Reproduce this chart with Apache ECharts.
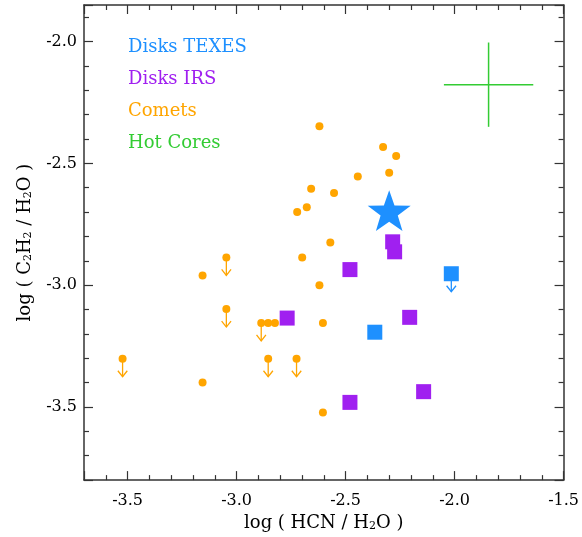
<!DOCTYPE html>
<html>
<head>
<meta charset="utf-8">
<script src="https://cdn.jsdelivr.net/npm/echarts@6/dist/echarts.min.js"></script>
<style>
html, body { margin: 0; padding: 0; background: #fff; }
#chart { width: 582px; height: 537px; }
</style>
</head>
<body>
<div id="chart"></div>
<script>
// [log(HCN/H2O), log(C2H2/H2O)]
var texesPoints = [[-2.366, -3.193], [-2.015, -2.953]];
var texesLimits = [[-2.015, -2.953]];
var texesStar = [[-2.30, -2.694]];
var irsPoints = [
  [-2.284, -2.822], [-2.275, -2.863], [-2.480, -2.936], [-2.768, -3.135],
  [-2.206, -3.132], [-2.142, -3.437], [-2.480, -3.481]
];
var cometDetections = [
  [-2.620, -2.348], [-2.328, -2.433], [-2.268, -2.470], [-2.444, -2.554],
  [-2.300, -2.539], [-2.658, -2.604], [-2.553, -2.622], [-2.678, -2.680],
  [-2.722, -2.700], [-2.570, -2.825], [-2.699, -2.886], [-3.156, -2.960],
  [-2.855, -3.155], [-2.824, -3.155], [-3.156, -3.399], [-2.620, -3.000],
  [-2.604, -3.155], [-2.604, -3.523]
];
// upper limits (dot with arrow)
var cometLimits = [
  [-3.047, -2.886], [-3.047, -3.098], [-2.887, -3.155],
  [-3.523, -3.302], [-2.855, -3.302], [-2.725, -3.302]
];
// typical error bar: [x, y, xerr, yerr]
var hotCoreErr = [[-1.844, -2.177, 0.205, 0.173]];

var xRange = [-3.7, -1.5];
var yRange = [-3.8, -1.85];

var FONT = 'DejaVu Serif';
var BLUE = '#1E90FF', PURPLE = '#A020F0', ORANGE = '#FFA500', GREEN = '#33CC33';
var STAR = 'path://M0,-10L2.35,-3.24L9.51,-3.09L3.8,1.24L5.88,8.09L0,4L-5.88,8.09L-3.8,1.24L-9.51,-3.09L-2.35,-3.24Z';

var chart = echarts.init(document.getElementById('chart'));

function tickFmt(v) {
  var k = Math.round(v / 0.5);
  return Math.abs(v - k * 0.5) < 1e-6 ? v.toFixed(1) : '';
}

function arrowRender(color) {
  return function (params, api) {
    var p = api.coord([api.value(0), api.value(1)]);
    var len = 18, hw = 4.7, hh = 6;
    return {
      type: 'group',
      children: [
        { type: 'line', shape: { x1: p[0], y1: p[1], x2: p[0], y2: p[1] + len },
          style: { stroke: color, lineWidth: 1.3 } },
        { type: 'polyline', shape: { points: [[p[0] - hw, p[1] + len - hh], [p[0], p[1] + len], [p[0] + hw, p[1] + len - hh]] },
          style: { stroke: color, fill: null, lineWidth: 1.3 } }
      ]
    };
  };
}

function errRender(params, api) {
  var x = api.value(0), y = api.value(1), dx = api.value(2), dy = api.value(3);
  var l = api.coord([x - dx, y]), r = api.coord([x + dx, y]);
  var t = api.coord([x, y + dy]), b = api.coord([x, y - dy]);
  return {
    type: 'group',
    children: [
      { type: 'line', shape: { x1: l[0], y1: l[1], x2: r[0], y2: r[1] }, style: { stroke: GREEN, lineWidth: 1.5 } },
      { type: 'line', shape: { x1: t[0], y1: t[1], x2: b[0], y2: b[1] }, style: { stroke: GREEN, lineWidth: 1.5 } }
    ]
  };
}

var axisLine = { show: true, lineStyle: { color: '#333', width: 1.5 } };
var major = { show: true, inside: true, length: 9, lineStyle: { color: '#333', width: 1.2 } };
var minor = { show: true, splitNumber: 5, length: 5, lineStyle: { color: '#333', width: 1.2 } };
var sub = { fontSize: 11, verticalAlign: 'bottom', lineHeight: 14, fontFamily: FONT, color: '#000' };

var option = {
  backgroundColor: '#fff',
  animation: false,
  grid: { left: 84, right: 16, top: 5, bottom: 55 },
  legend: {
    orient: 'vertical',
    left: 118,
    top: 33,
    icon: 'none',
    itemWidth: 0,
    itemGap: 14,
    selectedMode: false,
    textStyle: { fontFamily: FONT, fontSize: 18, lineHeight: 18 },
    data: [
      { name: 'Disks TEXES', textStyle: { color: BLUE } },
      { name: 'Disks IRS', textStyle: { color: PURPLE } },
      { name: 'Comets', textStyle: { color: ORANGE } },
      { name: 'Hot Cores', textStyle: { color: GREEN } }
    ]
  },
  xAxis: [{
    type: 'value', min: xRange[0], max: xRange[1], splitNumber: 4,
    axisLine: axisLine, axisTick: major, minorTick: minor, splitLine: { show: false },
    axisLabel: { formatter: tickFmt, fontFamily: FONT, fontSize: 16, color: '#000', margin: 13 },
    name: 'log ( HCN / H{s|2}O )', nameLocation: 'middle', nameGap: 31,
    nameTextStyle: { fontFamily: FONT, fontSize: 18, color: '#000', rich: { s: sub } }
  }, {
    type: 'value', position: 'top', min: xRange[0], max: xRange[1], splitNumber: 4,
    axisLine: axisLine, axisTick: major, minorTick: minor, splitLine: { show: false },
    axisLabel: { show: false }
  }],
  yAxis: [{
    type: 'value', min: yRange[0], max: yRange[1], splitNumber: 4,
    axisLine: axisLine, axisTick: major, minorTick: minor, splitLine: { show: false },
    axisLabel: { formatter: tickFmt, fontFamily: FONT, fontSize: 16, color: '#000', margin: 7 },
    name: 'log ( C{s|2}H{s|2} / H{s|2}O )', nameLocation: 'middle', nameGap: 50,
    nameTextStyle: { fontFamily: FONT, fontSize: 18, color: '#000', rich: { s: sub } }
  }, {
    type: 'value', position: 'right', min: yRange[0], max: yRange[1], splitNumber: 4,
    axisLine: axisLine, axisTick: major, minorTick: minor, splitLine: { show: false },
    axisLabel: { show: false }
  }],
  series: [
    { name: 'Comets', type: 'custom', renderItem: arrowRender(ORANGE), data: cometLimits, z: 2 },
    { name: 'Disks TEXES', type: 'custom', renderItem: arrowRender(BLUE), data: texesLimits, z: 2 },
    { name: 'Comets', type: 'scatter', symbol: 'circle', symbolSize: 8,
      itemStyle: { color: ORANGE, opacity: 1 }, data: cometDetections.concat(cometLimits), z: 3 },
    { name: 'Disks IRS', type: 'scatter', symbol: 'rect', symbolSize: 15,
      itemStyle: { color: PURPLE, opacity: 1 }, data: irsPoints, z: 4 },
    { name: 'Disks TEXES', type: 'scatter', symbol: 'rect', symbolSize: 15,
      itemStyle: { color: BLUE, opacity: 1 }, data: texesPoints, z: 4 },
    { name: 'Disks TEXES', type: 'scatter', symbol: STAR, symbolKeepAspect: true, symbolSize: 43,
      itemStyle: { color: BLUE, opacity: 1 }, data: texesStar, z: 4 },
    { name: 'Hot Cores', type: 'custom', renderItem: errRender, data: hotCoreErr, z: 2 }
  ]
};

chart.setOption(option);
</script>
</body>
</html>
